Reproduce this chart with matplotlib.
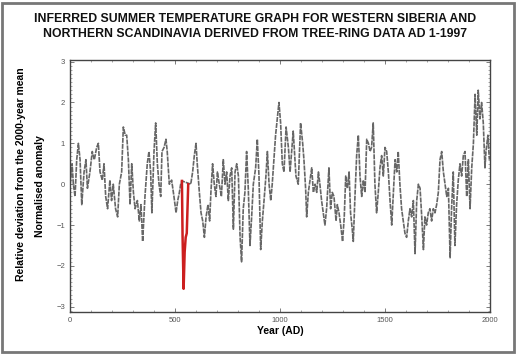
import matplotlib
matplotlib.use('Agg')
import matplotlib.pyplot as plt
from matplotlib.patches import Rectangle
from matplotlib.ticker import MultipleLocator

plt.rcParams['font.family'] = ['Liberation Sans', 'DejaVu Sans']

# tree-ring reconstruction, values
years = [1, 10, 16, 24, 32, 40, 48, 56, 67, 76, 83, 95, 106, 116, 127, 135, 143, 154, 162, 170,
         179, 190, 198, 206, 217, 227, 235, 246, 254, 263, 270, 278, 286, 294, 302, 310, 321, 330, 338, 346,
         357, 368, 376, 384, 390, 400, 408, 416, 424, 432, 438, 448, 457, 463, 473, 484, 495, 505, 513, 521,
         527, 533, 575, 584, 592, 600, 606, 616, 624, 632, 640, 648, 657, 665, 671, 679, 687, 695, 702, 711,
         721, 730, 738, 746, 754, 762, 770, 778, 786, 794, 802, 810, 817, 825, 833, 841, 849, 857, 865, 873,
         884, 892, 900, 908, 916, 924, 933, 940, 948, 956, 963, 971, 979, 987, 995, 1003, 1011, 1019, 1029, 1040,
         1048, 1063, 1076, 1087, 1098, 1108, 1114, 1122, 1127, 1135, 1143, 1151, 1159, 1167, 1175, 1183, 1190, 1198, 1206, 1214,
         1222, 1233, 1241, 1249, 1257, 1267, 1273, 1281, 1289, 1298, 1306, 1313, 1321, 1329, 1336, 1344, 1349, 1357, 1365, 1373,
         1381, 1389, 1397, 1405, 1413, 1421, 1429, 1436, 1444, 1452, 1460, 1468, 1476, 1484, 1492, 1500, 1508, 1516, 1524, 1532,
         1540, 1548, 1556, 1563, 1571, 1579, 1587, 1595, 1603, 1611, 1619, 1627, 1635, 1643, 1651, 1659, 1667, 1675, 1683, 1690,
         1698, 1706, 1714, 1722, 1730, 1738, 1746, 1754, 1762, 1770, 1778, 1786, 1794, 1802, 1810, 1817, 1825, 1833, 1841, 1849,
         1857, 1865, 1873, 1881, 1889, 1897, 1905, 1913, 1921, 1929, 1937, 1944, 1952, 1960, 1968, 1976, 1981, 1990, 1997]
anomaly = [0.0, 0.5, 0.0, -0.3, 0.6, 1.0, 0.6, -0.5, 0.3, 0.6, -0.1, 0.3, 0.8, 0.6, 0.9, 1.0, 0.3, 0.1, 0.5, -0.3,
           -0.6, 0.1, -0.4, 0.0, -0.6, -0.8, 0.0, 0.3, 1.4, 1.2, 1.2, 0.6, -0.5, 0.5, -0.2, -0.6, -0.4, -0.9, -0.5, -1.4,
           -0.3, 0.5, 0.8, 0.3, -0.7, 0.8, 1.5, 0.5, 0.0, -0.3, 0.8, 0.9, 1.1, 0.8, 0.0, 0.1, -0.3, -0.7, -0.4, -0.2,
           0.0, 0.08, 0.0, 0.3, 0.7, 1.0, 0.5, -0.2, -0.7, -0.9, -1.3, -0.8, -0.5, -0.9, -0.2, 0.5, 0.0, -0.3, 0.3, 0.0,
           -0.3, 0.6, 0.0, 0.3, -0.4, 0.2, 0.4, -1.1, 0.3, 0.5, 0.2, -1.3, -1.9, -0.6, -0.2, 0.8, -0.1, -1.5, -0.8, 0.0,
           0.4, 1.1, 0.2, -1.6, -0.9, -0.4, 0.2, 0.8, 0.0, -0.4, 0.0, 0.6, 1.2, 1.6, 2.0, 1.5, 0.5, 0.3, 1.4, 0.9,
           0.3, 1.3, 0.2, 0.0, 1.5, 1.0, 0.6, -0.1, -0.8, -0.2, 0.1, 0.4, -0.2, 0.0, -0.2, 0.3, 0.0, -0.4, -0.7, -1.0,
           -0.6, 0.4, -0.6, -0.2, -0.3, -0.9, -0.5, -0.7, -1.0, -1.4, -0.8, 0.2, -0.1, 0.3, -0.7, -1.1, -1.4, -0.3, 0.7, 1.2,
           0.2, -0.3, 0.1, -0.2, 1.1, 1.0, 0.8, 0.9, 1.5, 0.0, -0.7, -0.2, 0.4, 0.7, 0.2, 0.9, 0.8, 0.3, -0.4, -1.0,
           -0.2, 0.6, 0.3, 0.8, 0.0, -0.6, -0.9, -1.2, -1.3, -0.9, -0.6, -0.8, -0.4, -1.7, -0.4, 0.0, -0.1, -0.8, -1.6, -0.8,
           -1.0, -0.7, -0.6, -0.9, -0.6, -0.7, -0.5, -0.2, 0.6, 0.8, 0.3, 0.0, -0.3, -0.1, -1.8, -0.6, 0.3, -1.5, -0.5, 0.1,
           0.5, 0.2, 0.7, 0.8, -0.3, 0.6, -0.6, 0.4, 1.0, 2.2, 1.2, 2.3, 1.6, 2.0, 1.5, 0.4, 0.8, 1.2, 0.6]

# highlighted AD 536 event (red)
event_years = [533, 536, 541, 546, 551, 556, 563]
event_vals = [0.08, -1.26, -2.56, -1.66, -1.3, -1.2, 0.0]

title = ('INFERRED SUMMER TEMPERATURE GRAPH FOR WESTERN SIBERIA AND\n'
         'NORTHERN SCANDINAVIA DERIVED FROM TREE-RING DATA AD 1-1997')

fig = plt.figure(figsize=(5.2, 3.55), dpi=100)
ax = fig.add_axes([0.1346, 0.122, 0.8077, 0.709])

ax.plot(years, anomaly, color='#666666', lw=1.2, ls=(0, (3, 0.6)))
ax.plot(event_years, event_vals, color='#cc1f1f', lw=1.8)

ax.set_xlim(0, 2000)
ax.set_ylim(-3.12, 3.04)
ax.set_xticks([0, 500, 1000, 1500, 2000])
ax.set_yticks([-3, -2, -1, 0, 1, 2, 3])
ax.xaxis.set_minor_locator(MultipleLocator(100))
ax.yaxis.set_minor_locator(MultipleLocator(0.1))
ax.tick_params(which='both', direction='in', top=True, right=True, labelsize=5.5,
               labelcolor='#555555', color='#666666')
ax.tick_params(which='major', length=3, width=0.6)
ax.tick_params(which='minor', length=1.5, width=0.4)
for s in ax.spines.values():
    s.set_color('#444444')
    s.set_linewidth(1.0)

ax.set_xlabel('Year (AD)', fontsize=7.5, fontweight='bold', labelpad=2)
ax.set_ylabel('Normalised anomaly', fontsize=7.5, fontweight='bold', labelpad=8)
fig.text(0.04, 0.51, 'Relative deviation from the 2000-year mean', rotation=90,
         fontsize=7.5, fontweight='bold', ha='center', va='center')

fig.text(0.49, 0.925, title, ha='center', va='center', fontsize=8.8, fontweight='bold',
         linespacing=1.35, color='#111111')

fig.patches.append(Rectangle((0.004, 0.008), 0.985, 0.984, transform=fig.transFigure,
                             fill=False, edgecolor='#777777', lw=2))

fig.savefig('out.png', dpi=100)
